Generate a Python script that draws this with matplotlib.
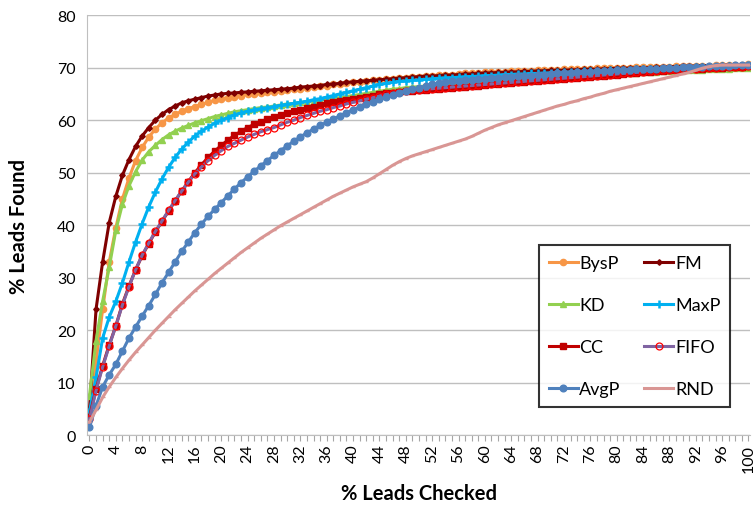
import numpy as np
import matplotlib
matplotlib.use("Agg")
import matplotlib.pyplot as plt

plt.rcParams['font.family'] = ['Lato', 'DejaVu Sans']

# % leads checked (categories 0..100)
checked = list(range(101))

bysp = [4, 14, 24, 33, 39.5, 45, 49, 52.3, 54.8, 56.8, 58.3,
        59.5, 60.4, 61.1, 61.7, 62.2, 62.6, 63, 63.4, 63.8, 64.1,
        64.3, 64.5, 64.7, 64.9, 65, 65.2, 65.3, 65.4, 65.6, 65.7,
        65.9, 66, 66.2, 66.3, 66.5, 66.6, 66.8, 66.9, 67.1, 67.2,
        67.3, 67.5, 67.6, 67.7, 67.8, 67.9, 68, 68.1, 68.2, 68.3,
        68.4, 68.5, 68.6, 68.6, 68.7, 68.8, 68.9, 68.9, 69, 69.1,
        69.1, 69.2, 69.2, 69.3, 69.3, 69.4, 69.4, 69.5, 69.5, 69.6,
        69.6, 69.7, 69.7, 69.7, 69.8, 69.8, 69.9, 69.9, 69.9, 70,
        70, 70, 70.1, 70.1, 70.1, 70.2, 70.2, 70.2, 70.3, 70.3,
        70.3, 70.4, 70.4, 70.4, 70.5, 70.5, 70.5, 70.6, 70.6, 70.7]

fm = [5, 24, 33, 40.5, 45.5, 49.5, 52.5, 55, 57, 58.6, 60,
      61.1, 62, 62.7, 63.3, 63.7, 64, 64.3, 64.6, 64.8, 65,
      65.1, 65.2, 65.3, 65.4, 65.5, 65.6, 65.7, 65.8, 65.9, 66,
      66.1, 66.3, 66.4, 66.5, 66.6, 66.8, 66.9, 67, 67.2, 67.3,
      67.4, 67.5, 67.6, 67.7, 67.8, 67.9, 68, 68.1, 68.2, 68.3,
      68.4, 68.4, 68.5, 68.6, 68.6, 68.7, 68.8, 68.8, 68.9, 69,
      69, 69.1, 69.1, 69.2, 69.2, 69.3, 69.3, 69.4, 69.4, 69.5,
      69.5, 69.5, 69.6, 69.6, 69.7, 69.7, 69.7, 69.8, 69.8, 69.9,
      69.9, 69.9, 70, 70, 70, 70.1, 70.1, 70.2, 70.2, 70.3,
      70.3, 70.3, 70.4, 70.4, 70.4, 70.5, 70.5, 70.5, 70.6, 70.6]

kd = [7.5, 18, 25.5, 32, 39, 44, 47.5, 50.2, 52.4, 54, 55.2,
      56.3, 57.2, 57.9, 58.5, 59, 59.5, 59.9, 60.3, 60.7, 61,
      61.3, 61.6, 61.8, 62, 62.2, 62.4, 62.5, 62.7, 62.9, 63.1,
      63.2, 63.4, 63.5, 63.7, 63.9, 64, 64.2, 64.3, 64.5, 64.7,
      64.9, 65.1, 65.3, 65.5, 65.7, 65.9, 66, 66.2, 66.3, 66.4,
      66.5, 66.6, 66.7, 66.8, 66.9, 67, 67.1, 67.2, 67.3, 67.4,
      67.5, 67.6, 67.6, 67.7, 67.8, 67.9, 67.9, 68, 68.1, 68.2,
      68.2, 68.3, 68.4, 68.4, 68.5, 68.6, 68.6, 68.7, 68.8, 68.9,
      68.9, 69, 69, 69.1, 69.1, 69.2, 69.3, 69.3, 69.4, 69.5,
      69.5, 69.6, 69.6, 69.7, 69.7, 69.8, 69.8, 69.9, 69.9, 70]

maxp = [4.5, 11, 18.5, 22.5, 25.5, 29, 33, 36.8, 40.3, 43.5, 46.3,
        48.8, 51, 52.9, 54.5, 55.8, 57, 57.9, 58.7, 59.4, 60,
        60.5, 61, 61.4, 61.7, 62, 62.2, 62.4, 62.6, 62.8, 63,
        63.2, 63.4, 63.6, 63.9, 64.1, 64.4, 64.7, 65, 65.3, 65.6,
        65.9, 66.2, 66.5, 66.8, 67, 67.2, 67.4, 67.5, 67.6, 67.7,
        67.8, 67.9, 68, 68.1, 68.1, 68.2, 68.3, 68.3, 68.4, 68.5,
        68.5, 68.6, 68.7, 68.7, 68.8, 68.8, 68.9, 68.9, 69, 69,
        69.1, 69.1, 69.2, 69.2, 69.3, 69.3, 69.4, 69.4, 69.5, 69.5,
        69.6, 69.6, 69.7, 69.7, 69.8, 69.8, 69.8, 69.9, 69.9, 70,
        70, 70.1, 70.1, 70.2, 70.2, 70.3, 70.3, 70.4, 70.4, 70.5]

cc = [3.5, 8.8, 13.2, 17.2, 20.8, 25, 28.4, 31.5, 34.2, 36.5, 38.7,
      40.7, 42.7, 44.6, 46.5, 48.3, 50, 51.5, 52.9, 54.1, 55.2,
      56.2, 57.1, 57.9, 58.6, 59.2, 59.7, 60.2, 60.6, 61, 61.4,
      61.7, 62, 62.3, 62.6, 62.9, 63.2, 63.4, 63.7, 63.9, 64.1,
      64.3, 64.5, 64.7, 64.9, 65.1, 65.2, 65.4, 65.5, 65.6, 65.7,
      65.8, 65.9, 66, 66.1, 66.2, 66.3, 66.4, 66.5, 66.6, 66.7,
      66.8, 66.9, 67, 67.1, 67.2, 67.3, 67.4, 67.5, 67.6, 67.7,
      67.8, 67.9, 68, 68.1, 68.2, 68.3, 68.4, 68.5, 68.6, 68.7,
      68.8, 68.9, 69, 69.1, 69.2, 69.3, 69.4, 69.5, 69.5, 69.6,
      69.7, 69.8, 69.8, 69.9, 70, 70, 70.1, 70.2, 70.2, 70.3]

fifo = [3, 8.5, 13, 17, 20.8, 24.8, 28.3, 31.5, 34.3, 36.6, 38.8,
        40.8, 42.8, 44.7, 46.5, 48.2, 49.8, 51.1, 52.3, 53.3, 54.2,
        55, 55.6, 56.2, 56.8, 57.3, 57.8, 58.2, 58.6, 59.1, 59.6,
        60, 60.5, 60.9, 61.3, 61.7, 62, 62.4, 62.7, 63.1, 63.4,
        63.7, 64, 64.3, 64.6, 64.9, 65.1, 65.3, 65.5, 65.7, 65.8,
        65.9, 66, 66.1, 66.2, 66.3, 66.4, 66.5, 66.6, 66.7, 66.8,
        66.9, 67, 67.1, 67.2, 67.3, 67.4, 67.5, 67.6, 67.7, 67.8,
        67.9, 68, 68.1, 68.2, 68.3, 68.4, 68.5, 68.6, 68.7, 68.8,
        68.9, 69, 69.1, 69.2, 69.3, 69.4, 69.5, 69.5, 69.6, 69.7,
        69.8, 69.8, 69.9, 70, 70, 70.1, 70.1, 70.2, 70.2, 70.3]

avgp = [1.5, 5.6, 9.2, 11.5, 13.5, 16, 18.5, 20.6, 22.7, 24.7, 26.8,
        29, 31, 33, 35, 36.8, 38.6, 40.2, 41.7, 43, 44.3,
        45.6, 46.9, 48.1, 49.2, 50.3, 51.3, 52.3, 53.3, 54.2, 55.1,
        56, 56.8, 57.6, 58.3, 59, 59.6, 60.2, 60.8, 61.4, 62,
        62.5, 63, 63.5, 64, 64.4, 64.8, 65.2, 65.6, 65.9, 66.2,
        66.5, 66.8, 67, 67.2, 67.4, 67.5, 67.6, 67.7, 67.8, 67.9,
        68, 68.1, 68.2, 68.3, 68.4, 68.5, 68.5, 68.6, 68.7, 68.8,
        68.9, 68.9, 69, 69.1, 69.2, 69.2, 69.3, 69.4, 69.4, 69.5,
        69.6, 69.6, 69.7, 69.7, 69.8, 69.8, 69.9, 69.9, 70, 70.1,
        70.1, 70.2, 70.2, 70.3, 70.3, 70.4, 70.4, 70.5, 70.5, 70.6]

rnd = [2.5, 4.8, 7.2, 9.2, 11, 12.7, 14.3, 15.8, 17.2, 18.6, 20,
       21.3, 22.6, 23.9, 25.1, 26.3, 27.5, 28.6, 29.7, 30.8, 31.8,
       32.8, 33.8, 34.8, 35.7, 36.6, 37.5, 38.3, 39.1, 39.9, 40.6,
       41.3, 42, 42.7, 43.4, 44.1, 44.8, 45.5, 46.1, 46.7, 47.3,
       47.8, 48.3, 49, 49.8, 50.6, 51.4, 52.1, 52.7, 53.2, 53.6,
       54, 54.4, 54.8, 55.2, 55.6, 56, 56.4, 56.9, 57.5, 58.1,
       58.6, 59.1, 59.5, 59.9, 60.3, 60.7, 61.1, 61.5, 61.9, 62.3,
       62.7, 63, 63.4, 63.7, 64.1, 64.4, 64.8, 65.1, 65.5, 65.8,
       66.1, 66.4, 66.7, 67, 67.3, 67.6, 67.9, 68.2, 68.5, 68.8,
       69.1, 69.5, 69.9, 70.2, 70.4, 70.5, 70.5, 70.5, 70.5, 70.5]

fig = plt.figure(figsize=(7.55, 5.06), dpi=100)
ax = fig.add_axes([0.115, 0.138, 0.879, 0.830])

lw = 2.2
l_bysp, = ax.plot(checked, bysp, color='#F79646', lw=lw, marker='o', ms=4.5, label='BysP')
l_fm, = ax.plot(checked, fm, color='#7F0000', lw=lw, marker='D', ms=2.8, label='FM')
l_kd, = ax.plot(checked, kd, color='#92D050', lw=lw, marker='^', ms=4.5, label='KD')
l_maxp, = ax.plot(checked, maxp, color='#00B0F0', lw=lw, marker='+', ms=6, mew=1.8, label='MaxP')
l_cc, = ax.plot(checked, cc, color='#C00000', lw=lw, marker='s', ms=4.5, label='CC')
l_fifo, = ax.plot(checked, fifo, color='#8064A2', lw=lw, marker='o', ms=5, mfc='none',
                  mec='#FF0000', mew=0.9, label='FIFO')
l_avgp, = ax.plot(checked, avgp, color='#4F81BD', lw=lw, marker='o', ms=4.8, label='AvgP')
l_rnd, = ax.plot(checked, rnd, color='#D99694', lw=lw, marker='_', ms=3, label='RND')

ax.set_xlim(-0.4, 100.3)
ax.set_ylim(0, 80)
ax.set_yticks(range(0, 81, 10))
ax.set_xticks(checked, [str(c) if c % 4 == 0 else '' for c in checked], rotation=90)
ax.tick_params(axis='x', length=4, color='#A6A6A6', labelsize=11.5, pad=2)
ax.tick_params(axis='y', length=0, labelsize=11.5, pad=8)

ax.grid(axis='y', color='#BFBFBF', lw=1)
ax.set_axisbelow(True)
for s in ['top', 'right']:
    ax.spines[s].set_visible(False)
ax.spines['left'].set_color('#BFBFBF')
ax.spines['bottom'].set_color('#BFBFBF')

ax.set_xlabel('% Leads Checked', fontsize=14.5, fontweight='bold', labelpad=8)
ax.set_ylabel('% Leads Found', fontsize=14.5, fontweight='bold', labelpad=20)

# legend rows: BysP/FM, KD/MaxP, CC/FIFO, AvgP/RND (column-wise order)
handles = [l_bysp, l_kd, l_cc, l_avgp, l_fm, l_maxp, l_fifo, l_rnd]
leg = ax.legend(handles=handles, labels=[h.get_label() for h in handles], ncol=2,
                loc='upper left', bbox_to_anchor=(0.681, 0.453), borderaxespad=0,
                fontsize=13, frameon=True, fancybox=False, edgecolor='black',
                labelspacing=1.45, handlelength=1.6, handletextpad=0.1,
                columnspacing=1.3, borderpad=0.55)
leg.get_frame().set_linewidth(1.5)

fig.savefig('out.png', dpi=100)
